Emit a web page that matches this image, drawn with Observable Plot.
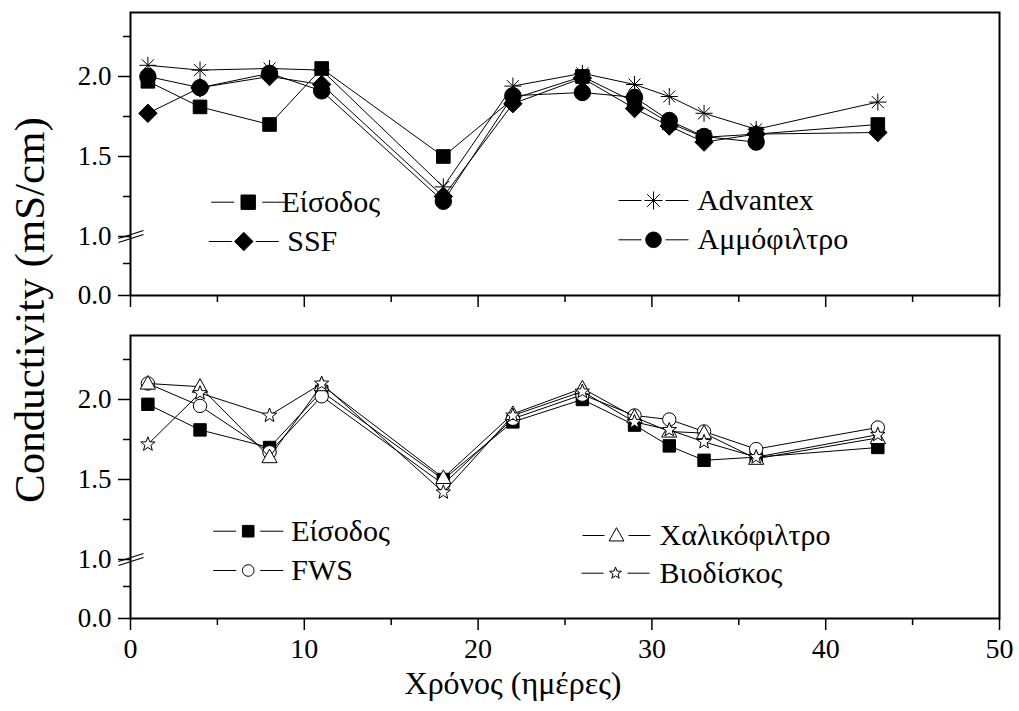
<!DOCTYPE html>
<html><head><meta charset="utf-8">
<script src="https://cdn.jsdelivr.net/npm/d3@7"></script>
<script src="https://cdn.jsdelivr.net/npm/@observablehq/plot@0.6"></script>
<style>
body{margin:0;background:#fff;}
#wrap{position:relative;width:1019px;height:711px;font-family:"Liberation Serif",serif;background:#fff;}
#wrap svg{display:block;}
#wrap svg text{font-family:"Liberation Serif",serif !important;}
#ytitle{position:absolute;left:29px;top:310px;transform:translate(-50%,-50%) rotate(-90deg);font-size:43px;white-space:nowrap;color:#000;}
</style></head><body>
<div id="wrap"><div id="ytitle">Conductivity (mS/cm)</div></div>
<script>
// ---------- data ----------
const days = [1, 4, 8, 11, 18, 22, 26, 29, 31, 33, 36, 43];
const eisodos = [1.97, 1.81, 1.70, 2.05, 1.50, 1.86, 2.00, 1.84, 1.71, 1.62, 1.64, 1.70];
const advantex = [2.07, 2.04, 2.05, 2.04, 1.31, 1.94, 2.02, 1.95, 1.875, 1.77, 1.67, 1.84];
const ssf = [1.77, 1.93, 2.00, 1.95, 1.25, 1.83, 1.99, 1.80, 1.69, 1.59, 1.64, 1.65];
const ammofiltro = [2.00, 1.93, 2.02, 1.91, 1.22, 1.88, 1.90, 1.87, 1.725, 1.625, 1.59];
const fws = [2.10, 1.96, 1.67, 2.02, 1.47, 1.88, 2.03, 1.90, 1.875, 1.80, 1.69, 1.825];
const chalikofiltro = [2.10, 2.08, 1.64, 2.09, 1.51, 1.91, 2.07, 1.89, 1.80, 1.79, 1.63, 1.76];
const viodiskos = [1.72, 2.04, 1.90, 2.10, 1.42, 1.90, 2.05, 1.86, 1.81, 1.735, 1.64, 1.78];
const xTicks = [0, 10, 20, 30, 40, 50];
const xMinorTicks = [5, 15, 25, 35, 45];
const yTicks = [0, 1, 1.5, 2];
const yMinorTicks = [0.5, 1.25, 1.75, 2.25];
const xTitle = "Χρόνος (ημέρες)";

const FONT = "Liberation Serif";

// broken y axis: piecewise mapping value -> height above the bottom of the frame
const yBreak = d3.scaleLinear().domain([0, 0.5, 1, 2.4]).range([0, 32, 59, 283]);

// ---------- symbols ----------
const R = s => Math.sqrt(s / Math.PI);
const square = {draw(c, s){const r = R(s); c.moveTo(-r,-r); c.lineTo(r,-r); c.lineTo(r,r); c.lineTo(-r,r); c.closePath();}};
const diamond = {draw(c, s){const r = R(s); c.moveTo(0,-r); c.lineTo(r,0); c.lineTo(0,r); c.lineTo(-r,0); c.closePath();}};
const circle = {draw(c, s){const r = R(s); c.moveTo(r,0); c.arc(0,0,r,0,2*Math.PI); c.closePath();}};
const asterisk = {draw(c, s){const r = R(s); for (let k = 0; k < 4; k++){const a = k*Math.PI/4; c.moveTo(-r*Math.cos(a), -r*Math.sin(a)); c.lineTo(r*Math.cos(a), r*Math.sin(a));}}};
const triangle = {draw(c, s){const r = R(s); c.moveTo(0,-r); c.lineTo(r*0.95, r*0.7); c.lineTo(-r*0.95, r*0.7); c.closePath();}};
const star = {draw(c, s){const r = R(s), ri = r*0.42; for (let k = 0; k < 10; k++){const a = -Math.PI/2 + k*Math.PI/5, rr = k % 2 ? ri : r; if (k) c.lineTo(rr*Math.cos(a), rr*Math.sin(a)); else c.moveTo(rr*Math.cos(a), rr*Math.sin(a));} c.closePath();}};
const withLines = (base, outer, inner) => ({draw(c, s){c.moveTo(-outer,0); c.lineTo(-inner,0); c.moveTo(inner,0); c.lineTo(outer,0); base.draw(c, s);}});
const breakMark = {draw(c){c.moveTo(-12,6); c.lineTo(13,-2); c.moveTo(-12,2); c.lineTo(13,-6);}};

// ---------- panels ----------
const topSeries = [
  {name: "Είσοδος", values: eisodos, symbol: square, r: 6.8, fill: "black", leg: {dx: 117.7, dy: 189.7, r: 7.2, outer: 37, inner: 14, tdx: 151}},
  {name: "Advantex", values: advantex, symbol: asterisk, r: 8.5, fill: "none", leg: {dx: 523, dy: 188, r: 9, outer: 35, inner: 12, tdx: 566.7}},
  {name: "SSF", values: ssf, symbol: diamond, r: 9.2, fill: "black", leg: {dx: 113.3, dy: 229, r: 9.2, outer: 35, inner: 12, tdx: 156.7}},
  {name: "Αμμόφιλτρο", values: ammofiltro, symbol: circle, r: 8.2, fill: "black", leg: {dx: 523, dy: 227.3, r: 7.8, outer: 35, inner: 12, tdx: 567}}
];
const bottomSeries = [
  {name: "Είσοδος", values: eisodos, symbol: square, r: 6.2, fill: "black", leg: {dx: 117.7, dy: 195.7, r: 5.8, outer: 35, inner: 12, tdx: 160.7}},
  {name: "FWS", values: fws, symbol: circle, r: 6.7, fill: "white", leg: {dx: 117.7, dy: 235, r: 5.8, outer: 35, inner: 12, tdx: 160.7}},
  {name: "Χαλικόφιλτρο", values: chalikofiltro, symbol: triangle, r: 8, fill: "white", leg: {dx: 486, dy: 200, r: 7.8, outer: 34, inner: 12, tdx: 529}},
  {name: "Βιοδίσκος", values: viodiskos, symbol: star, r: 7.5, fill: "white", leg: {dx: 485, dy: 237.7, r: 6.2, outer: 34, inner: 12, tdx: 529}}
];

function panel(series, height, marginBottom, showLabels) {
  const marks = [];
  for (const s of series) {
    const rows = s.values.map((v, i) => ({day: days[i], value: v}));
    marks.push(Plot.line(rows, {x: "day", y: "value", stroke: "black", strokeWidth: 1}));
    marks.push(Plot.dot(rows, {x: "day", y: "value", symbol: s.symbol, r: s.r, fill: s.fill, stroke: "black", strokeWidth: 1}));
  }
  for (const s of series) {
    const L = s.leg;
    marks.push(Plot.dot([s.name], {frameAnchor: "top-left", dx: L.dx, dy: L.dy, symbol: withLines(s.symbol, L.outer, L.inner), r: L.r, fill: s.fill, stroke: "black", strokeWidth: 1}));
    marks.push(Plot.text([s.name], {frameAnchor: "top-left", dx: L.tdx, dy: L.dy, textAnchor: "start", lineAnchor: "middle", fontSize: 30, fontFamily: FONT, fill: "black"}));
  }
  marks.push(Plot.axisX({ticks: xTicks, tickSize: 12, tickPadding: 8, strokeWidth: 1.5, fontSize: 28, fontFamily: FONT, label: null, tickFormat: showLabels ? (d => String(d)) : (() => "")}));
  marks.push(Plot.axisX({ticks: xMinorTicks, tickSize: 7, strokeWidth: 1.5, label: null, tickFormat: () => ""}));
  // axis ticks are placed in the scale's (transformed) space
  marks.push(Plot.axisY({ticks: yTicks.map(yBreak), tickSize: 12, tickPadding: 7, strokeWidth: 1.5, fontSize: 27, fontFamily: FONT, label: null, tickFormat: d => yBreak.invert(d).toFixed(1)}));
  marks.push(Plot.axisY({ticks: yMinorTicks.map(yBreak), tickSize: 7, strokeWidth: 1.5, label: null, tickFormat: () => ""}));
  marks.push(Plot.frame({stroke: "black", strokeWidth: 2}));
  marks.push(Plot.dot([{x: 0, y: 1}], {x: "x", y: "y", symbol: breakMark, r: 10, fill: "none", stroke: "black", strokeWidth: 1.3}));
  if (showLabels) marks.push(Plot.text([xTitle], {frameAnchor: "bottom", dx: -52, dy: 65, lineAnchor: "middle", fontSize: 32, fontFamily: FONT, fill: "black"}));
  return Plot.plot({
    width: 1019, height,
    marginLeft: 130, marginRight: 20, marginTop: 12, marginBottom,
    style: {fontFamily: FONT, fontSize: "28px", color: "black", background: "white", overflow: "visible"},
    x: {domain: [0, 50]},
    y: {transform: v => yBreak(v), domain: [0, 283]},
    marks
  });
}

const wrap = document.getElementById("wrap");
wrap.appendChild(panel(topSeries, 323, 28, false));
wrap.appendChild(panel(bottomSeries, 388, 93, true));
</script>
</body></html>
